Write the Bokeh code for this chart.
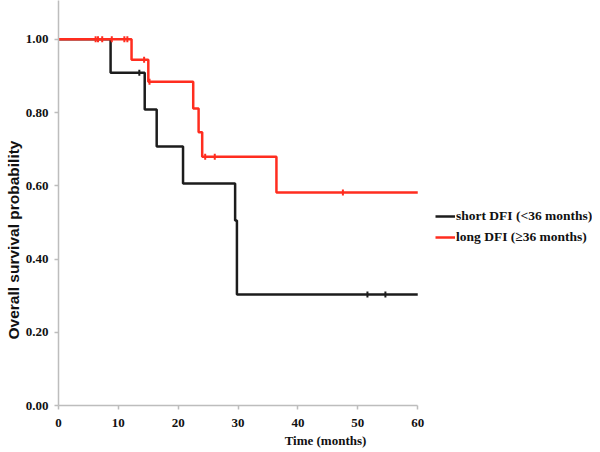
import math
from bokeh.plotting import figure
from bokeh.models import Legend, LegendItem, NumeralTickFormatter, FixedTicker, Title
from bokeh.embed import file_html
from bokeh.resources import INLINE

# Kaplan-Meier steps (time in months, survival after event)
short_times = [0, 8.7, 14.4, 16.4, 20.8, 29.5, 29.8, 60]
short_surv = [1.0, 0.909, 0.808, 0.707, 0.606, 0.505, 0.303, 0.303]
short_cens_t = [13.5, 51.6, 54.6]
short_cens_s = [0.909, 0.303, 0.303]

long_times = [0, 12.2, 15.0, 22.5, 23.4, 24.0, 36.4, 60]
long_surv = [1.0, 0.944, 0.884, 0.811, 0.746, 0.679, 0.582, 0.582]
long_cens_t = [6.2, 6.6, 7.3, 8.9, 11.0, 11.5, 14.3, 15.2, 24.5, 26.1, 47.5]
long_cens_s = [1.0, 1.0, 1.0, 1.0, 1.0, 1.0, 0.944, 0.884, 0.679, 0.679, 0.582]

series_labels = ["short DFI (<36 months)", "long DFI (\u226536 months)"]
x_ticks = [0, 10, 20, 30, 40, 50, 60]
y_ticks = [0, 0.2, 0.4, 0.6, 0.8, 1.0]

BLACK = "#1c1c1c"
RED = "#ff2d1f"
AXIS = "#bdbdbd"

FIG_W, FIG_H = 592, 450
LEFT = 58
PX_PER_MONTH = 5.92
x_end = (FIG_W - LEFT - 6) / PX_PER_MONTH

p = figure(width=FIG_W, height=FIG_H, output_backend="svg", toolbar_location=None,
           x_range=(0, x_end), y_range=(0, 1.106),
           min_border_left=LEFT, min_border_right=0, min_border_top=0, min_border_bottom=0)
p.outline_line_color = None
p.xgrid.visible = False
p.ygrid.visible = False

r_short = p.step(short_times, short_surv, mode="after", line_color=BLACK, line_width=2.5)
p.scatter(short_cens_t, short_cens_s, marker="dash", angle=math.pi / 2, size=6,
          line_color=BLACK, line_width=2)
r_long = p.step(long_times, long_surv, mode="after", line_color=RED, line_width=2.5)
p.scatter(long_cens_t, long_cens_s, marker="dash", angle=math.pi / 2, size=6,
          line_color=RED, line_width=2)

for ax in (p.xaxis[0], p.yaxis[0]):
    ax.axis_line_color = AXIS
    ax.axis_line_width = 1.5
    ax.major_tick_line_color = AXIS
    ax.major_tick_line_width = 1.5
    ax.major_tick_out = 4
    ax.major_tick_in = 0
    ax.minor_tick_line_color = None
    ax.major_label_text_font = "Liberation Serif"
    ax.major_label_text_font_style = "bold"
    ax.major_label_text_font_size = "13px"
    ax.major_label_text_color = "#111111"
    ax.axis_label_text_font_style = "bold"
    ax.axis_label_text_color = "#111111"

p.xaxis.ticker = FixedTicker(ticks=x_ticks)
p.xaxis.bounds = (0, 60)
p.yaxis.ticker = FixedTicker(ticks=y_ticks)
p.yaxis.formatter = NumeralTickFormatter(format="0.00")
p.xaxis.major_label_standoff = 9
p.yaxis.major_label_standoff = 6

p.xaxis.axis_label = "Time (months)"
p.xaxis.axis_label_text_font = "Liberation Serif"
p.xaxis.axis_label_text_font_size = "13px"
p.xaxis.axis_label_standoff = 3

ylab = Title(text="Overall survival probability", align="left", offset=66,
             text_font="Liberation Sans", text_font_style="bold",
             text_font_size="15.5px", text_color="#111111", standoff=2)
p.add_layout(ylab, "left")

legend = Legend(items=[LegendItem(label=series_labels[0], renderers=[r_short]),
                       LegendItem(label=series_labels[1], renderers=[r_long])],
                location=(377, 158), padding=0, margin=0, spacing=1,
                label_height=20, glyph_height=20, glyph_width=20, label_standoff=1,
                label_text_font="Liberation Serif", label_text_font_style="bold",
                label_text_font_size="13.5px", label_text_color="#111111",
                border_line_color=None, background_fill_alpha=0)
p.add_layout(legend, "center")

open("out.html", "w").write(file_html(p, INLINE))
